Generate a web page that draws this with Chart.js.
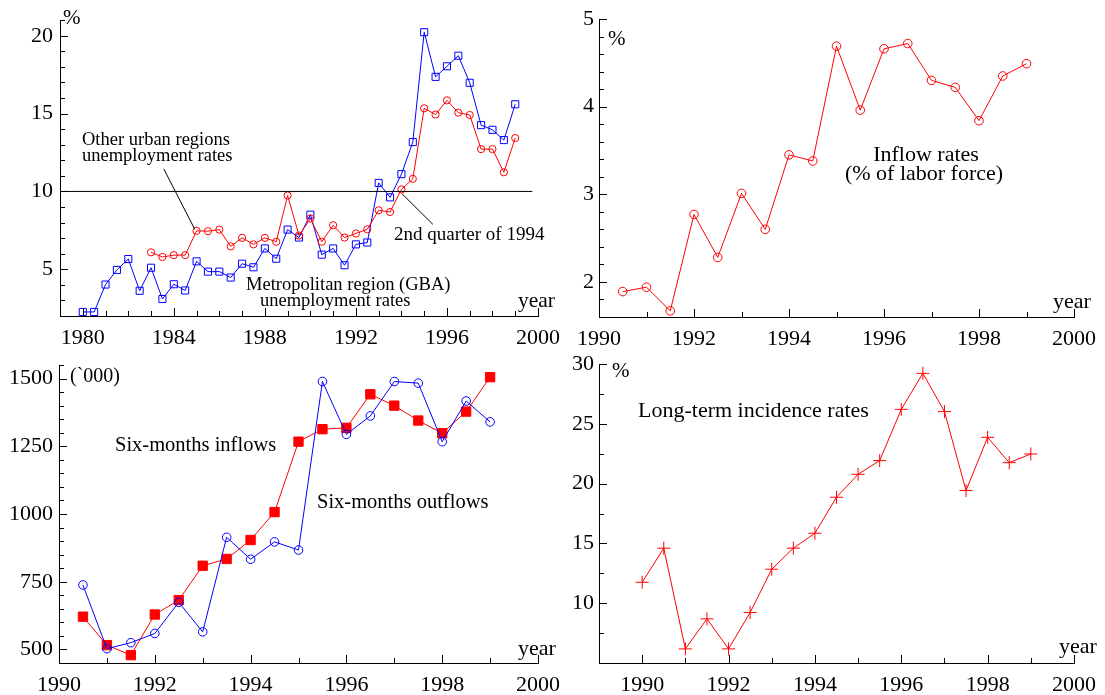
<!DOCTYPE html>
<html><head><meta charset="utf-8">
<script src="https://cdn.jsdelivr.net/npm/chart.js@4.4.0/dist/chart.umd.min.js"></script>
<style>
html,body{margin:0;padding:0;background:#fff;}
#wrap{position:relative;width:1105px;height:695px;overflow:hidden;}
canvas{position:absolute;left:0;top:0;}
</style></head><body>
<div id="wrap">
<canvas id="c1" width="1105" height="695"></canvas>
<canvas id="c2" width="1105" height="695"></canvas>
<canvas id="c3" width="1105" height="695"></canvas>
<canvas id="c4" width="1105" height="695"></canvas>
</div>
<script>
// ---------- DATA ----------
// Panel 1: unemployment rates, semi-annual 1980.0 .. 1999.0
const gbaYears = [1980,1980.5,1981,1981.5,1982,1982.5,1983,1983.5,1984,1984.5,1985,1985.5,1986,1986.5,1987,1987.5,1988,1988.5,1989,1989.5,1990,1990.5,1991,1991.5,1992,1992.5,1993,1993.5,1994,1994.5,1995,1995.5,1996,1996.5,1997,1997.5,1998,1998.5,1999];
const gbaRates = [2.26,2.26,4.02,4.96,5.66,3.62,5.10,3.09,4.04,3.64,5.51,4.85,4.85,4.47,5.36,5.13,6.34,5.68,7.55,7.04,8.51,5.94,6.34,5.26,6.60,6.72,10.55,9.62,11.11,13.17,20.23,17.36,18.04,18.72,16.98,14.26,13.96,13.30,15.60];
const otherYears = [1983,1983.5,1984,1984.5,1985,1985.5,1986,1986.5,1987,1987.5,1988,1988.5,1989,1989.5,1990,1990.5,1991,1991.5,1992,1992.5,1993,1993.5,1994,1994.5,1995,1995.5,1996,1996.5,1997,1997.5,1998,1998.5,1999];
const otherRates = [6.09,5.79,5.91,5.91,7.47,7.45,7.55,6.47,7.02,6.60,7.02,6.77,9.74,7.17,8.26,6.77,7.83,7.04,7.30,7.57,8.79,8.68,10.13,10.81,15.34,14.94,15.85,15.06,14.91,12.72,12.72,11.23,13.43];
const thresholdLine = [[1979,10],[1999.75,10]];
const leaderOther = [[1983.56,11.45],[1984.92,7.57]];
const leader1994 = [[1994.02,9.86],[1995.38,7.89]];

// Panel 2: inflow rates, 1990.5 .. 1999.0
const flowYears = [1990.5,1991,1991.5,1992,1992.5,1993,1993.5,1994,1994.5,1995,1995.5,1996,1996.5,1997,1997.5,1998,1998.5,1999];
const inflowRates = [1.89,1.94,1.67,2.77,2.28,3.01,2.60,3.45,3.38,4.69,3.96,4.66,4.72,4.30,4.22,3.84,4.35,4.49];

// Panel 3: six-month flows ('000), 1990.5 .. 1999.0
const sixInflows  = [621,516,479,629,682,809,834,904,1007,1267,1313,1318,1442,1400,1345,1298,1378,1505];
const sixOutflows = [738,503,525,559,674,565,914,833,897,867,1489,1294,1362,1489,1483,1267,1417,1340];

// Panel 4: long-term incidence rates, 1990.0 .. 1999.0
const ltYears = [1990,1990.5,1991,1991.5,1992,1992.5,1993,1993.5,1994,1994.5,1995,1995.5,1996,1996.5,1997,1997.5,1998,1998.5,1999];
const ltRates = [11.75,14.60,6.18,8.69,6.18,9.22,12.84,14.60,15.85,18.86,20.78,21.92,26.21,29.22,26.02,19.42,23.87,21.75,22.48];

// Tick labels
const p1XLabels = [1980,1984,1988,1992,1996,2000];
const p1YLabels = [5,10,15,20];
const p2XLabels = [1990,1992,1994,1996,1998,2000];
const p2YLabels = [2,3,4,5];
const p3XLabels = [1990,1992,1994,1996,1998,2000];
const p3YLabels = [500,750,1000,1250,1500];
const p4XLabels = [1990,1992,1994,1996,1998,2000];
const p4YLabels = [10,15,20,25,30];

// ---------- HELPERS ----------
const FONT = "'Liberation Serif','Times New Roman',serif";
const RED = '#ff0000', BLUE = '#0000ff';
function pts(xs, ys){ return xs.map((x,i)=>({x:x, y:ys[i]})); }
function pairPts(arr){ return arr.map(p=>({x:p[0], y:p[1]})); }
function range(a,b,s){ const out=[]; const n=Math.round((b-a)/s); for(let i=0;i<=n;i++) out.push(+(a+i*s).toFixed(6)); return out; }

const inTicks = {
  id:'inTicks',
  afterDraw(chart, args, o){
    const ctx = chart.ctx, xs = chart.scales.x, ys = chart.scales.y, a = chart.chartArea;
    const isMaj = (v, list) => list.some(m => Math.abs(m - v) < 1e-6);
    ctx.save(); ctx.strokeStyle = '#000'; ctx.lineWidth = 1; ctx.beginPath();
    o.xMinor.forEach(v => {
      const px = Math.round(xs.getPixelForValue(v)) + 0.5;
      const len = isMaj(v, o.xMajor) ? 8 : 5;
      ctx.moveTo(px, a.bottom); ctx.lineTo(px, a.bottom - len);
    });
    o.yMinor.forEach(v => {
      const py = Math.round(ys.getPixelForValue(v)) + 0.5;
      const len = isMaj(v, o.yMajor) ? 8 : 5;
      ctx.moveTo(a.left, py); ctx.lineTo(a.left + len, py);
    });
    ctx.stroke();
    // texts (page coordinates)
    ctx.fillStyle = '#000'; ctx.textBaseline = 'alphabetic';
    (o.texts || []).forEach(t => {
      ctx.font = t.size + 'px ' + FONT;
      ctx.textAlign = t.align || 'left';
      ctx.fillText(t.text, t.x, t.y);
    });
    ctx.restore();
  }
};

function axis(min, max, labels, isX, fixed, pad){
  return {
    type:'linear', min:min, max:max,
    border:{display:true, color:'#000', width:1},
    grid:{display:false, drawTicks:false},
    ticks:{color:'#000', font:{family:FONT, size:22}, padding:pad, autoSkip:false, maxRotation:0,
           callback:(v)=>String(v)},
    afterBuildTicks:(s)=>{ s.ticks = labels.map(v=>({value:v})); },
    afterFit:(s)=>{ if(isX) s.height = fixed; else s.width = fixed; }
  };
}

function lineDs(data, color, style, radius, fill, extra){
  return Object.assign({
    data:data, borderColor:color, borderWidth:1, tension:0,
    pointStyle:style, pointRadius:radius, pointBorderColor:color, pointBorderWidth:1,
    pointBackgroundColor: fill ? color : 'rgba(0,0,0,0)', clip:false, showLine:true
  }, extra||{});
}
function plainLine(data){
  return {data:data, borderColor:'#000', borderWidth:1, pointRadius:0, tension:0, clip:false, showLine:true};
}

function makeChart(id, cfg){
  new Chart(document.getElementById(id), {
    type:'scatter',
    data:{datasets:cfg.datasets},
    plugins:[inTicks],
    options:{
      responsive:false, animation:false, devicePixelRatio:1, events:[],
      layout:{padding:cfg.padding},
      plugins:{legend:{display:false}, tooltip:{enabled:false}, inTicks:cfg.ticks},
      scales:{x:cfg.x, y:cfg.y}
    }
  });
}

// ---------- PANEL 1 ----------
makeChart('c1', {
  padding:{left:10, top:18, right:567, bottom:349},
  x: axis(1979, 2000, p1XLabels, true, 30, 9),
  y: axis(2, 21, p1YLabels, false, 50, 7),
  datasets:[
    plainLine(pairPts(thresholdLine)),
    plainLine(pairPts(leaderOther)),
    plainLine(pairPts(leader1994)),
    lineDs(pts(otherYears, otherRates), RED, 'circle', 3.6, false),
    lineDs(pts(gbaYears, gbaRates), BLUE, 'rect', 5, false)
  ],
  ticks:{
    xMinor: range(1979,2000,1), xMajor: p1XLabels,
    yMinor: range(2,21,1), yMajor: p1YLabels,
    texts:[
      {text:'%', x:63, y:24, size:21},
      {text:'Other urban regions', x:82, y:144.5, size:18.5},
      {text:'unemployment rates', x:82, y:161, size:18.5},
      {text:'2nd quarter of 1994', x:394, y:240, size:19},
      {text:'Metropolitan region (GBA)', x:246, y:290, size:18.5},
      {text:'unemployment rates', x:260, y:306, size:18.5},
      {text:'year', x:518, y:307, size:21.5}
    ]
  }
});

// ---------- PANEL 2 ----------
makeChart('c2', {
  padding:{left:549, top:19, right:26, bottom:348},
  x: axis(1990, 2000, p2XLabels, true, 30, 9),
  y: axis(1.6, 5, p2YLabels, false, 50, 5),
  datasets:[
    lineDs(pts(flowYears, inflowRates), RED, 'circle', 4.3, false)
  ],
  ticks:{
    xMinor: range(1990,2000,1), xMajor: p2XLabels,
    yMinor: range(1.6,5,0.2), yMajor: p2YLabels,
    texts:[
      {text:'%', x:608, y:45, size:21},
      {text:'Inflow rates', x:926, y:161, size:22, align:'center'},
      {text:'(% of labor force)', x:924, y:179.5, size:22, align:'center'},
      {text:'year', x:1053, y:308, size:22}
    ]
  }
});

// ---------- PANEL 3 ----------
makeChart('c3', {
  padding:{left:9, top:365, right:567, bottom:2},
  x: axis(1990, 2000, p3XLabels, true, 30, 9),
  y: axis(450, 1550, p3YLabels, false, 50, 6),
  datasets:[
    lineDs(pts(flowYears, sixOutflows), BLUE, 'circle', 4.3, false),
    lineDs(pts(flowYears, sixInflows), RED, 'rect', 6.6, true)
  ],
  ticks:{
    xMinor: range(1990,2000,1), xMajor: p3XLabels,
    yMinor: range(450,1550,50), yMajor: p3YLabels,
    texts:[
      {text:'(`000)', x:70, y:382, size:20},
      {text:'Six-months inflows', x:115, y:451, size:20.5},
      {text:'Six-months outflows', x:317, y:507.5, size:20.5},
      {text:'year', x:518, y:655, size:22}
    ]
  }
});

// ---------- PANEL 4 ----------
makeChart('c4', {
  padding:{left:549, top:364, right:26, bottom:2},
  x: axis(1989, 2000, p4XLabels, true, 30, 9),
  y: axis(5, 30, p4YLabels, false, 50, 5),
  datasets:[
    lineDs(pts(ltYears, ltRates), RED, 'cross', 6.5, false)
  ],
  ticks:{
    xMinor: range(1989,2000,1), xMajor: p4XLabels,
    yMinor: range(5,30,2.5), yMajor: p4YLabels,
    texts:[
      {text:'%', x:612, y:377, size:21},
      {text:'Long-term incidence rates', x:638, y:416.5, size:22},
      {text:'year', x:1059, y:653, size:22}
    ]
  }
});
</script>
</body></html>
